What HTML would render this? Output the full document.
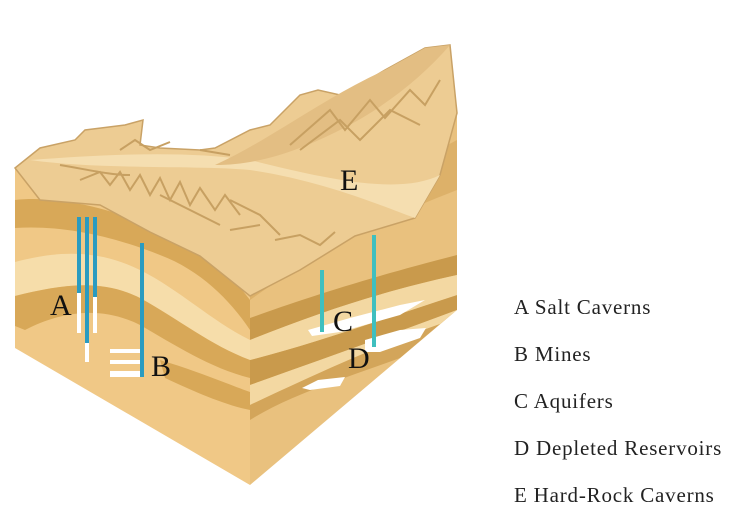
<!DOCTYPE html>
<html><head><style>
html,body{margin:0;padding:0;background:#fff;width:739px;height:524px;overflow:hidden}
.leg{position:absolute;left:514px;font-family:"Liberation Serif",serif;font-size:21px;letter-spacing:0.8px;color:#222}
</style></head><body>
<svg width="739" height="524" style="position:absolute;left:0;top:0">
<polygon points="15,168 40,200 100,205 150,232 200,256 250,296 250,485 15,348" fill="#F0C886"/>
<path d="M15,200 C60,195 120,210 170,235 C210,255 235,280 250,300 L250,330 C230,300 200,270 160,255 C110,235 60,225 15,228Z" fill="#D8A858"/>
<path d="M15,262 C60,250 100,250 140,270 C180,290 210,320 250,340 L250,360 C210,345 180,320 140,298 C100,278 60,285 15,296Z" fill="#F6DDAA"/>
<path d="M15,296 C60,285 100,278 140,298 C180,320 210,345 250,360 L250,378 C210,368 175,345 140,325 C100,305 60,312 25,330 L15,326Z" fill="#D8A858"/>
<path d="M160,360 C200,372 230,385 250,392 L250,410 C225,405 195,392 165,378Z" fill="#D8A858"/>
<polygon points="250,296 300,270 355,236 415,218 457,113 457,310 250,485" fill="#E9C17E"/>
<path d="M250,318 C300,300 360,280 457,255 L457,275 C380,292 320,312 250,340Z" fill="#C99A4C"/>
<path d="M250,360 C310,345 380,320 457,295 L457,310 C390,335 320,360 250,385Z" fill="#C99A4C"/>
<path d="M250,340 C320,312 380,292 457,275 L457,295 C380,320 310,345 250,360Z" fill="#F3D8A2"/>
<path d="M250,385 C320,360 390,335 457,310 L440,324 C380,345 320,372 250,405Z" fill="#F3D8A2"/>
<path d="M250,405 C320,372 380,345 440,324 L400,358 C340,380 290,395 250,420Z" fill="#D3A55A"/>
<path d="M250,250 L457,140 L457,190 C380,220 320,250 250,300Z" fill="#D7A961" opacity="0.7"/>
<polygon points="308,330 350,318 400,305 425,300 400,315 340,332 312,336" fill="#fff"/>
<polygon points="365,340 400,330 426,328 420,338 380,352 365,352" fill="#fff"/>
<polygon points="302,388 318,380 345,377 340,386 310,390" fill="#fff"/>
<path d="M15,168 L40,148 L75,140 L85,130 L125,125 L143,120 L140,145 L160,148 L200,150 L215,148 L250,130 L270,125 L300,95 L318,90 L340,95 L360,85 L385,70 L425,48 L450,45 L457,113 L440,175 L415,218 L355,236 L300,270 L250,296 L200,256 L150,232 L100,205 L40,200 Z" fill="#EDCC93" stroke="#C9A266" stroke-width="1.5"/>
<path d="M30,160 C100,170 200,165 250,170 C320,180 380,205 415,218 L440,175 C400,195 330,180 250,160 C180,150 100,155 30,160Z" fill="#F5DEB0"/>
<path d="M215,165 C270,140 320,100 385,70 L425,48 L450,45 C420,80 380,110 340,130 C300,150 260,165 215,165Z" fill="#E3BE83"/>
<g stroke="#C7A062" stroke-width="2" fill="none">
<path d="M60,165 C90,170 110,175 130,175 M80,180 L100,172 L110,185 L120,172 L130,190 L140,175 L150,195 L160,178 L170,200 L180,182 L190,205 L200,188 L215,210 L225,195 L240,215"/>
<path d="M160,195 L190,210 L220,225 M230,200 L260,215 L280,235"/>
<path d="M290,145 L330,110 L345,130 L370,100 L385,118 L410,90 L425,105 L440,80 M300,150 L340,120 L360,140 L390,110 L420,125"/>
<path d="M120,150 L135,140 L150,150 L170,142 M200,150 L230,155"/>
<path d="M275,240 L300,235 L320,245 L335,232 M230,230 L260,225"/>
</g>
<rect x="77" y="217" width="4" height="76" fill="#2A9BC0"/><rect x="77" y="293" width="4" height="40" fill="#fff"/>
<rect x="85" y="217" width="4" height="126" fill="#2A9BC0"/><rect x="85" y="343" width="4" height="19" fill="#fff"/>
<rect x="93" y="217" width="4" height="80" fill="#2A9BC0"/><rect x="93" y="297" width="4" height="36" fill="#fff"/>
<rect x="110" y="349" width="30" height="4" fill="#fff"/><rect x="110" y="360" width="30" height="4" fill="#fff"/><rect x="110" y="371" width="30" height="6" fill="#fff"/>
<rect x="140" y="243" width="4" height="134" fill="#2A9BC0"/>
<rect x="320" y="270" width="4" height="62" fill="#3FBFBF"/>
<rect x="372" y="235" width="4" height="112" fill="#3FBFBF"/>
<g font-family="Liberation Serif,serif" font-size="30" fill="#111">
<text x="50" y="315">A</text><text x="151" y="376">B</text><text x="333" y="331">C</text><text x="348" y="368">D</text><text x="340" y="190">E</text>
</g>
</svg>
<div class="leg" style="top:295px">A Salt Caverns</div>
<div class="leg" style="top:342px">B Mines</div>
<div class="leg" style="top:389px">C Aquifers</div>
<div class="leg" style="top:436px">D Depleted Reservoirs</div>
<div class="leg" style="top:483px">E Hard-Rock Caverns</div>
</body></html>
